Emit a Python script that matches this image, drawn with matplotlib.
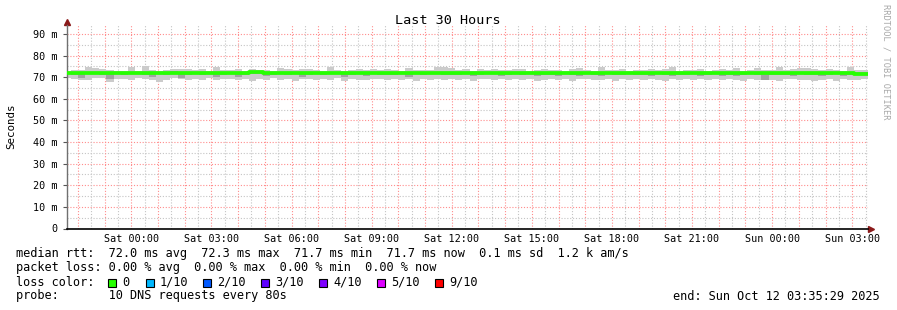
import datetime as dt
import matplotlib
matplotlib.use("Agg")
import matplotlib.pyplot as plt
import matplotlib.dates as mdates
from matplotlib.patches import Rectangle
from matplotlib.ticker import FixedLocator, FuncFormatter

# ---- data (ms), one value per 16-minute consolidation step ----
inicio_bins = dt.datetime(2025, 10, 10, 21, 28)
passo_min = 16
fim = dt.datetime(2025, 10, 12, 3, 35, 29)
inicio = fim - dt.timedelta(hours=30)

rtt_median = [
    72.0, 72.0, 71.9, 72.0, 72.1, 72.0, 71.9, 72.0, 72.0, 72.1,
    72.0, 71.9, 72.0, 72.0, 72.1, 72.0, 71.9, 72.0, 72.0, 72.0,
    72.1, 72.0, 72.0, 72.0, 72.1, 72.0, 72.3, 72.2, 72.0, 71.9,
    72.0, 72.0, 72.1, 72.0, 71.9, 72.0, 72.0, 72.1, 72.0, 72.0,
    71.9, 72.0, 72.0, 72.1, 72.0, 72.0, 71.9, 72.0, 72.0, 72.1,
    72.0, 72.0, 72.1, 72.0, 72.0, 71.9, 72.0, 72.0, 72.0, 72.1,
    72.0, 71.9, 72.0, 72.0, 72.1, 72.0, 72.0, 72.0, 71.9, 72.0,
    72.1, 72.0, 72.0, 72.0, 71.9, 72.0, 72.0, 72.1, 72.0, 72.0,
    71.9, 72.0, 72.0, 72.1, 72.0, 72.0, 72.0, 71.9, 72.0, 72.0,
    72.1, 72.0, 72.0, 71.9, 72.0, 72.0, 72.1, 72.0, 72.0, 71.8,
    71.8, 72.0, 72.0, 72.1, 72.0, 71.9, 72.0, 72.0, 72.1, 72.0,
    71.9, 71.7, 71.7,
]

smoke_hi = [
    73.0, 73.4, 73.4, 74.8, 74.2, 73.6, 73.4, 73.0, 73.0, 74.7,
    73.0, 75.0, 73.4, 73.0, 73.5, 73.8, 73.8, 73.7, 73.3, 73.6,
    73.0, 74.8, 73.4, 73.2, 73.6, 73.0, 74.0, 73.5, 73.4, 73.0,
    74.2, 73.6, 73.3, 73.9, 74.0, 73.2, 73.1, 74.6, 73.4, 73.0,
    73.5, 73.9, 73.2, 73.6, 73.4, 74.0, 73.2, 73.0, 74.1, 73.5,
    73.3, 73.2, 74.6, 74.7, 74.4, 73.5, 73.6, 73.0, 73.8, 73.4,
    74.0, 73.3, 73.2, 73.6, 73.9, 73.0, 73.4, 74.0, 73.2, 73.5,
    73.1, 73.6, 74.5, 73.4, 73.0, 74.6, 73.2, 73.5, 73.9, 73.0,
    73.3, 73.4, 74.0, 73.2, 73.6, 74.8, 73.0, 73.4, 73.2, 73.7,
    73.1, 73.5, 73.9, 73.3, 74.2, 73.0, 73.5, 74.4, 73.2, 73.4,
    74.6, 73.5, 73.8, 74.4, 74.3, 73.6, 73.2, 74.0, 73.4, 73.0,
    74.6, 73.5, 73.2,
]

smoke_lo = [
    69.5, 69.3, 68.6, 68.8, 69.5, 69.5, 67.9, 69.0, 69.4, 68.6,
    69.6, 69.1, 68.8, 67.9, 68.7, 69.5, 69.4, 68.5, 69.0, 68.8,
    69.5, 68.9, 69.3, 69.0, 68.6, 69.4, 68.4, 69.1, 68.9, 69.5,
    68.7, 69.2, 68.3, 69.0, 69.4, 68.8, 69.3, 68.6, 69.5, 68.4,
    69.2, 68.9, 68.6, 69.4, 69.0, 68.5, 69.3, 68.8, 69.1, 68.4,
    69.0, 68.7, 69.3, 68.9, 69.4, 68.6, 69.2, 68.1, 69.0, 69.4,
    68.8, 69.3, 68.5, 69.0, 68.9, 69.4, 68.2, 68.8, 69.3, 68.9,
    69.1, 68.4, 69.0, 69.3, 68.6, 68.9, 69.4, 68.3, 69.0, 68.8,
    69.2, 68.5, 69.3, 68.9, 68.4, 69.1, 68.8, 69.4, 68.6, 69.0,
    68.5, 69.2, 68.8, 69.4, 68.9, 68.2, 69.0, 68.7, 69.3, 68.8,
    68.4, 69.0, 69.3, 68.6, 68.9, 68.2, 68.7, 69.1, 68.4, 69.0,
    68.5, 68.9, 69.2,
]

inner_hi = [
    72.5, 72.4, 72.4, 72.6, 72.5, 72.5, 72.4, 72.5, 72.4, 72.6,
    72.5, 72.4, 72.5, 72.5, 72.6, 72.8, 72.4, 72.5, 72.5, 72.4,
    72.6, 72.5, 72.4, 72.5, 72.6, 72.5, 72.8, 72.7, 72.5, 72.4,
    72.5, 72.5, 72.6, 72.5, 72.4, 72.5, 72.5, 72.6, 72.5, 72.5,
    72.4, 72.5, 72.5, 72.6, 72.5, 72.5, 72.4, 72.5, 72.5, 72.6,
    72.5, 72.5, 72.6, 72.5, 72.5, 72.4, 72.5, 72.5, 72.5, 72.6,
    72.5, 72.4, 72.5, 72.5, 72.6, 72.5, 72.5, 72.5, 72.4, 72.5,
    72.6, 72.5, 72.5, 72.5, 72.4, 72.5, 72.5, 72.6, 72.5, 72.5,
    72.4, 72.5, 72.5, 72.6, 72.5, 72.5, 72.5, 72.4, 72.5, 72.5,
    72.6, 72.5, 72.5, 72.4, 72.5, 72.5, 72.6, 72.5, 72.5, 72.3,
    72.3, 72.5, 72.5, 72.6, 72.5, 72.4, 72.5, 72.5, 72.6, 72.5,
    72.4, 72.2, 72.2,
]

inner_lo = [
    71.3, 71.2, 69.6, 71.3, 71.4, 71.2, 69.4, 71.3, 71.2, 71.4,
    71.3, 71.2, 69.9, 71.3, 71.2, 71.3, 69.8, 71.2, 71.3, 71.2,
    71.4, 70.0, 71.2, 71.3, 70.2, 71.2, 71.4, 71.3, 70.6, 71.2,
    71.3, 71.2, 71.4, 70.1, 71.2, 71.3, 71.2, 71.4, 71.3, 70.2,
    71.2, 71.3, 70.4, 71.3, 71.2, 71.2, 71.0, 71.3, 70.3, 71.4,
    71.2, 71.3, 71.3, 70.9, 71.2, 71.1, 71.3, 70.4, 71.2, 71.4,
    71.3, 70.5, 71.2, 71.3, 71.2, 71.3, 70.6, 71.2, 71.1, 70.4,
    71.3, 71.2, 70.5, 71.3, 71.1, 70.8, 71.3, 71.2, 70.9, 71.3,
    71.1, 71.2, 70.4, 71.3, 71.2, 70.5, 71.2, 71.1, 71.3, 70.7,
    71.2, 71.3, 70.6, 71.1, 70.4, 71.2, 71.3, 70.9, 68.9, 71.2,
    71.0, 71.2, 70.5, 71.3, 71.2, 71.0, 70.5, 71.2, 71.3, 70.6,
    71.2, 71.0, 71.0,
]

legenda_cores = ["0", "1/10", "2/10", "3/10", "4/10", "5/10", "9/10"]
cores_perda = ["#26ff00", "#00b8ff", "#0059ff", "#5e00ff", "#7e00ff", "#dd00ff", "#ff0000"]

W, H = 897, 310
FONTE = "DejaVu Sans Mono"
VERMELHO_GRADE = "#ff8c8c"
CINZA_GRADE = "#c4c4c4"


def fx(px):
    return px / W


def fy(py):
    return 1 - py / H


fig = plt.figure(figsize=(W / 100, H / 100), dpi=100)
fig.patch.set_facecolor("white")
ax = fig.add_axes([fx(67), fy(228.5), fx(868) - fx(67), fy(24.5) - fy(228.5)])
ax.set_facecolor("white")

n = len(rtt_median)
passo = dt.timedelta(minutes=passo_min)
t_bins = [inicio_bins + i * passo for i in range(n)]
x_bins = mdates.date2num(t_bins)
largura = passo_min / 1440.0

# smoke
ax.bar(x_bins, [h - l for h, l in zip(smoke_hi, smoke_lo)], bottom=smoke_lo,
       width=largura, align="edge", color="#cbcbcb", linewidth=0, zorder=2)
ax.bar(x_bins, [h - l for h, l in zip(inner_hi, inner_lo)], bottom=inner_lo,
       width=largura, align="edge", color="#a2a2a2", linewidth=0, zorder=3)

# median line
x_degraus = list(x_bins) + [x_bins[-1] + largura]
ax.step(x_degraus, rtt_median + [rtt_median[-1]], where="post",
        color=cores_perda[0], linewidth=2.7, zorder=4, solid_capstyle="butt")

x0 = mdates.date2num(inicio)
x1 = mdates.date2num(fim)
ax.set_xlim(x0, x1)
ax.set_ylim(0, 94.4)

# grid
pontilhado = (0, (1, 1.6))
for v in range(5, 95, 10):
    ax.axhline(v, color=CINZA_GRADE, linestyle=pontilhado, linewidth=0.8, zorder=1)
for v in range(10, 95, 10):
    ax.axhline(v, color=VERMELHO_GRADE, linestyle=pontilhado, linewidth=0.8, zorder=1)
t = dt.datetime(2025, 10, 10, 22, 0)
while t < fim:
    ax.axvline(mdates.date2num(t), color=VERMELHO_GRADE, linestyle=pontilhado, linewidth=0.8, zorder=1)
    tm = t + dt.timedelta(minutes=30)
    if tm < fim:
        ax.axvline(mdates.date2num(tm), color=CINZA_GRADE, linestyle=pontilhado, linewidth=0.8, zorder=1)
    t += dt.timedelta(hours=1)
ax.axvline(mdates.date2num(dt.datetime(2025, 10, 10, 21, 30)), color=CINZA_GRADE,
           linestyle=pontilhado, linewidth=0.8, zorder=1)

# ticks
ax.yaxis.set_major_locator(FixedLocator(range(0, 95, 10)))
ax.yaxis.set_major_formatter(FuncFormatter(lambda v, p: "0" if v == 0 else f"{int(v)} m"))
marcas = [dt.datetime(2025, 10, 11, 0, 0) + dt.timedelta(hours=3 * k) for k in range(10)]
ax.xaxis.set_major_locator(FixedLocator(mdates.date2num(marcas)))
ax.xaxis.set_major_formatter(mdates.DateFormatter("%a %H:%M"))
ax.tick_params(axis="both", labelsize=7.3, length=2, width=0.8, color="#555555", pad=2)
ax.tick_params(axis="x", direction="in", length=0, pad=4)
ax.tick_params(axis="y", direction="out", length=3, pad=4)
for rotulo in ax.get_xticklabels() + ax.get_yticklabels():
    rotulo.set_family(FONTE)

for lado in ["top", "right"]:
    ax.spines[lado].set_visible(False)
ax.spines["left"].set_color("#707070")
ax.spines["left"].set_linewidth(1)
ax.spines["bottom"].set_color("black")
ax.spines["bottom"].set_linewidth(1.2)
ax.spines["bottom"].set_zorder(5)

# axis arrows
ax.plot([1.004], [0], marker=">", color="#8b1a1a", markersize=4, transform=ax.transAxes, clip_on=False)
ax.plot([0], [1.01], marker="^", color="#8b1a1a", markersize=4, transform=ax.transAxes, clip_on=False)

# texts
fig.text(fx(448), fy(20), "Last 30 Hours", family=FONTE, fontsize=9.7, ha="center", va="center")
fig.text(fx(11), fy(126), "Seconds", family=FONTE, fontsize=7.8, rotation=90, ha="center", va="center")
fig.text(fx(886), fy(4), "RRDTOOL / TOBI OETIKER", family=FONTE, fontsize=6.2, color="#a8a8a8",
         rotation=270, ha="center", va="top")

tam = 8.6
fig.text(fx(16), fy(254), "median rtt:  72.0 ms avg  72.3 ms max  71.7 ms min  71.7 ms now  0.1 ms sd  1.2 k am/s",
         family=FONTE, fontsize=tam, va="center")
fig.text(fx(16), fy(268), "packet loss: 0.00 % avg  0.00 % max  0.00 % min  0.00 % now",
         family=FONTE, fontsize=tam, va="center")
fig.text(fx(16), fy(282), "loss color:", family=FONTE, fontsize=tam, va="center")
pos_x = [108, 146, 203, 261, 319, 377, 435]
for px, rotulo, cor in zip(pos_x, legenda_cores, cores_perda):
    fig.patches.append(Rectangle((fx(px), fy(286.5)), fx(8), 8 / H, transform=fig.transFigure,
                                 facecolor=cor, edgecolor="black", linewidth=0.8))
    fig.text(fx(px + 14), fy(282), rotulo, family=FONTE, fontsize=tam, va="center")
fig.text(fx(16), fy(296), "probe:       10 DNS requests every 80s", family=FONTE, fontsize=tam, va="center")
fig.text(fx(880), fy(296), "end: Sun Oct 12 03:35:29 2025", family=FONTE, fontsize=tam, va="center", ha="right")

fig.savefig("out.png", dpi=100)
